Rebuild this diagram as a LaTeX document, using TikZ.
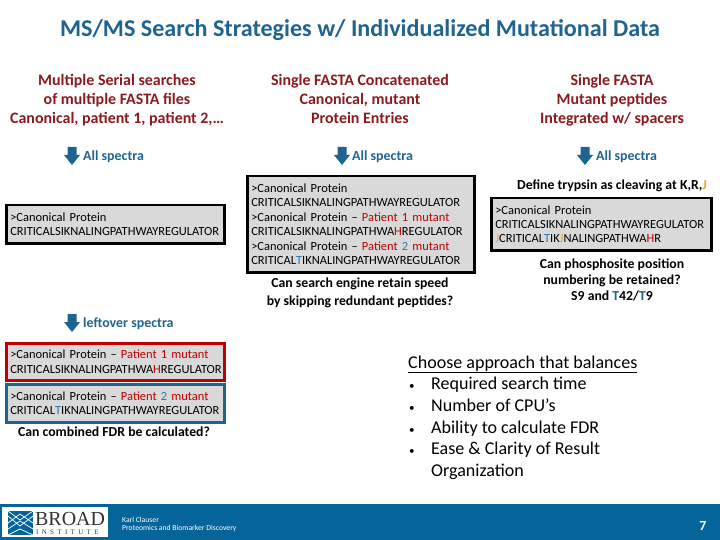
\documentclass[tikz,border=0pt]{standalone}
\usepackage{fontspec}
\setmainfont{Carlito}
\definecolor{headred}{HTML}{8B1A1E}
\definecolor{mutred}{HTML}{C00000}
\definecolor{broadblue}{HTML}{05659B}
\definecolor{tealtext}{HTML}{1F6391}
\definecolor{mutblue}{HTML}{2E75B6}
\definecolor{spacer}{HTML}{E3A23A}
\definecolor{boxgray}{HTML}{D9D9D9}
\newcommand{\pone}{\textcolor{mutred}{Patient 1 mutant}}
\newcommand{\ptwo}{\textcolor{mutred}{Patient \textcolor{mutblue}{2} mutant}}
\newcommand{\muth}{\textcolor{mutred}{H}}
\newcommand{\mutt}{\textcolor{mutblue}{T}}
\newcommand{\spj}{\textcolor{spacer}{J}}
\newcommand{\bul}{\makebox[23bp][l]{\hspace*{1bp}\fontsize{11}{11}\selectfont•}}
\begin{document}
\begin{tikzpicture}[x=1bp,y=-1bp,
    head node/.style={align=center,text=headred,font=\fontsize{16}{19}\selectfont\bfseries,inner sep=0pt},
    spectra node/.style={anchor=west,text=tealtext,font=\fontsize{14}{15}\selectfont\bfseries,inner sep=0pt},
    seq node/.style={draw=black,fill=boxgray,line width=2.5bp,anchor=north west,align=left,inner sep=0pt,text width=#1,font=\fontsize{12.5}{14.5}\selectfont},
    ask node/.style={align=center,inner sep=0pt,font=\fontsize{13.8}{18}\selectfont\bfseries}]
  \useasboundingbox (0,0) rectangle (720,540);

  \node[text=tealtext,inner sep=0pt,font=\fontsize{24.2}{26}\selectfont\bfseries] (title) at (360,30.5) {MS/MS Search Strategies w/ Individualized Mutational Data};

  % three strategies
  \node[head node] (head1) at (117,100) {Multiple Serial searches\\of multiple FASTA files\\Canonical, patient 1, patient 2,\dots};
  \node[head node] (head2) at (360,99) {Single FASTA Concatenated\\Canonical, mutant\\Protein Entries};
  \node[head node] (head3) at (612,100) {Single FASTA\\Mutant peptides\\Integrated w/ spacers};

  \foreach \ax/\ay in {72/156,342/156,585/156,72/323}
    \fill[tealtext] (\ax-4.5,\ay-9) -- (\ax+4.5,\ay-9) -- (\ax+4.5,\ay-1) -- (\ax+8,\ay-1) -- (\ax,\ay+9) -- (\ax-8,\ay-1) -- (\ax-4.5,\ay-1) -- cycle;
  \node[spectra node] (all1) at (83,157) {All spectra};
  \node[spectra node] (all2) at (352,157) {All spectra};
  \node[spectra node] (all3) at (596,157) {All spectra};

  \node[seq node=218bp,minimum height=38bp] (box1) at (5,204) {\hspace*{4bp}>Canonical Protein\\\hspace*{4bp}CRITICALSIKNALINGPATHWAYREGULATOR\\[-12bp]};
  \node[seq node=227bp,minimum height=96bp] (box2) at (246,175) {\hspace*{4bp}>Canonical Protein\\\hspace*{4bp}CRITICALSIKNALINGPATHWAYREGULATOR\\\hspace*{4bp}>Canonical Protein -- \pone\\\hspace*{4bp}CRITICALSIKNALINGPATHWA\muth REGULATOR\\\hspace*{4bp}>Canonical Protein -- \ptwo\\\hspace*{4bp}CRITICAL\mutt IKNALINGPATHWAYREGULATOR\\[-12bp]};
  \node[seq node=220bp,minimum height=52bp] (box3) at (490,197) {\hspace*{4bp}>Canonical Protein\\\hspace*{4bp}CRITICALSIKNALINGPATHWAYREGULATOR\\\hspace*{4bp}\spj CRITICAL\mutt IK\spj NALINGPATHWA\muth R\\[-12bp]};

  \node[ask node] (ask2) at (360,293) {Can search engine retain speed\\by skipping redundant peptides?};
  \node[ask node] (ask3a) at (612,186) {Define trypsin as cleaving at K,R,\spj};
  \node[ask node,font=\fontsize{13.8}{16}\selectfont\bfseries] (ask3b) at (612,280) {Can phosphosite position\\numbering be retained?\\S9 and \textcolor{tealtext}{T}42/\textcolor{tealtext}{T}9};

  % leftover search
  \node[spectra node] (left4) at (83,324) {leftover spectra};
  \node[seq node=218bp,draw=mutred,minimum height=37bp] (box4) at (5,342) {\hspace*{4bp}>Canonical Protein -- \pone\\\hspace*{4bp}CRITICALSIKNALINGPATHWA\muth REGULATOR\\[-12bp]};
  \node[seq node=218bp,draw=tealtext,minimum height=38bp] (box5) at (5,383) {\hspace*{4bp}>Canonical Protein -- \ptwo\\\hspace*{4bp}CRITICAL\mutt IKNALINGPATHWAYREGULATOR\\[-12bp]};
  \node[ask node] (ask1) at (114,432) {Can combined FDR be calculated?};

  \node[anchor=north west,inner sep=0pt,align=left,font=\fontsize{18.1}{21.7}\selectfont] (choose) at (408,355.5) {\underline{Choose approach that balances}\\\bul Required search time\\\bul Number of CPU's\\\bul Ability to calculate FDR\\\bul Ease \& Clarity of Result\\\hspace*{23bp}Organization};

  % footer
  \fill[broadblue] (0,504) rectangle (720,540);
  \fill[white] (2,507) rectangle (108,537);
  \fill[broadblue] (8,511) rectangle (33,535);
  \foreach \ya/\yb in {511/520,516/526,523/514,529/521,535/529}
    \draw[white,line width=0.7bp] (8,\ya) -- (20,\yb) -- (33,\ya);
  \node[anchor=west,inner sep=0pt,text=black!80,font=\fontsize{20}{20}\selectfont] (broad) at (35,519) {\fontspec{Liberation Serif}BROAD};
  \node[anchor=west,inner sep=0pt,text=black!80,font=\fontsize{7}{7}\selectfont] (institute) at (36,532) {\fontspec[LetterSpace=48]{Liberation Serif}INSTITUTE};
  \node[anchor=north west,inner sep=0pt,align=left,text=white,font=\fontsize{7.7}{8}\selectfont] (credit) at (122,517) {Karl Clauser\\Proteomics and Biomarker Discovery};
  \node[text=white,inner sep=0pt,font=\fontsize{14}{14}\selectfont\bfseries] (page) at (703,526) {7};
\end{tikzpicture}
\end{document}
